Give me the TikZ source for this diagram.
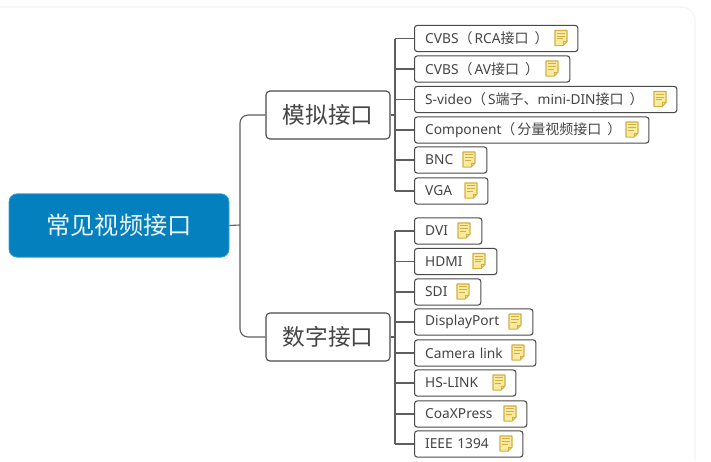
\documentclass[tikz,border=0pt]{standalone}
\usepackage{fontspec}
\setmainfont{Noto Sans}
\newfontfamily\cjk{Noto Sans CJK SC}
\newcommand{\zh}[1]{{\cjk\fontsize{10.5pt}{12pt}\selectfont #1}}
\newcommand{\lp}{\zh{（}\hspace{1.5pt}}
\newcommand{\rp}{\hspace{4.5pt}\zh{）}}
\definecolor{linegray}{HTML}{5E5E5E}
\definecolor{boxline}{HTML}{4A4A4A}
\definecolor{inktext}{HTML}{444444}
\definecolor{rootblue}{HTML}{0580BE}
\definecolor{rootedge}{HTML}{38A5DA}
\definecolor{notefill}{HTML}{F8EBA0}
\definecolor{noteedge}{HTML}{D2AE45}
\definecolor{frameline}{HTML}{F4F4F4}
\tikzset{
  x=0.75pt,y=-0.75pt,
  conn/.style={draw=linegray,line width=0.85pt},
  leafbox/.style={draw=boxline,line width=0.8pt,fill=white,rounded corners=2pt,anchor=west,
    inner xsep=8pt,inner ysep=0pt,minimum height=19.6pt,align=left,text=inktext,
    font=\fontsize{10.3pt}{12pt}\selectfont},
  branchbox/.style={draw=boxline,line width=0.85pt,fill=white,rounded corners=3pt,
    minimum width=93pt,minimum height=36pt,inner sep=0pt,text=inktext,
    font=\cjk\fontsize{17pt}{20pt}\selectfont},
  rootbox/.style={draw=rootedge,line width=0.6pt,fill=rootblue,rounded corners=6pt,
    minimum width=165pt,minimum height=47.5pt,inner sep=0pt,text=white!92!rootblue,
    font=\cjk\fontsize{18.2pt}{20pt}\selectfont},
  notebody/.style={minimum width=8.6pt,minimum height=11pt,inner sep=0pt},
  noteshape/.style={draw=noteedge,line width=0.9pt,fill=notefill,line join=round},
  noteline/.style={draw=noteedge,line width=0.6pt},
}
% name, y centre, right edge, text, icon x
\newcommand{\leafnode}[5]{%
  \pgfmathsetlengthmacro{\leaftw}{(#3-414)*0.75pt-16.5pt}%
  \node[leafbox,text width=\leaftw] (#1) at (414,#2) {#4};
  \draw[conn] (#1.west -| sr) -- (#1.west);
  \node[notebody] (#1n) at (#5,#2-0.5) {};
  \draw[noteshape] (#1n.north west) -- (#1n.north east) -- ([yshift=3pt]#1n.south east)
    -- ([xshift=-3pt]#1n.south east) -- (#1n.south west) -- cycle;
  \draw[noteline] ([xshift=-3pt]#1n.south east) -- ([xshift=-3pt,yshift=3pt]#1n.south east) -- ([yshift=3pt]#1n.south east);
  \draw[noteline] ([xshift=1.6pt,yshift=-2.2pt]#1n.north west) -- ([xshift=-1.6pt,yshift=-2.2pt]#1n.north east)
    ([xshift=1.6pt,yshift=-4.2pt]#1n.north west) -- ([xshift=-1.6pt,yshift=-4.2pt]#1n.north east)
    ([xshift=1.6pt,yshift=-6.2pt]#1n.north west) -- ([xshift=-3pt,yshift=-6.2pt]#1n.north east);
}
\begin{document}
\begin{tikzpicture}
\useasboundingbox (0,0) rectangle (711,461);
\fill[white] (0,0) rectangle (711,461);
\draw[frameline,line width=0.8pt,rounded corners=10pt] (0,7) -- (695,7) -- (695,461);
\coordinate (sl) at (240,225);
\node[rootbox] (root) at (119,225.5) {常见视频接口};
\node[branchbox] (ma) at (328,115) {模拟接口};
\node[branchbox] (di) at (328,337) {数字接口};
\draw[conn] (root.east) -- (sl);
\draw[conn,rounded corners=6pt] (ma.west) -- (ma.west -| sl) -- (di.west -| sl) -- (di.west);
\coordinate (sr) at (395,115);
% analog
\leafnode{a1}{38.5}{578}{CVBS\lp RCA\zh{接口}\rp}{561}
\leafnode{a2}{69}{570}{CVBS\lp AV\zh{接口}\rp}{552}
\leafnode{a3}{99.5}{677}{S-video\lp S\zh{端子、}mini-DIN\zh{接口}\rp}{660}
\leafnode{a4}{130}{649}{Component\lp\zh{分量视频接口}\rp}{632}
\leafnode{a5}{160}{487}{BNC}{469}
\leafnode{a6}{191}{488}{VGA}{471}
\draw[conn] (ma.east) -- (ma.east -| sr);
\draw[conn] (a1.west -| sr) -- (a6.west -| sr);
% digital
\coordinate (sr) at (395,337);
\leafnode{d1}{231}{482}{DVI}{464}
\leafnode{d2}{261.5}{497}{HDMI}{479}
\leafnode{d3}{292}{481}{SDI}{463}
\leafnode{d4}{322}{533}{DisplayPort}{515}
\leafnode{d5}{353}{536}{Camera link}{518}
\leafnode{d6}{383}{516}{HS-LINK}{499}
\leafnode{d7}{414}{527}{CoaXPress}{510}
\leafnode{d8}{444}{523}{IEEE 1394}{506}
\draw[conn] (di.east) -- (di.east -| sr);
\draw[conn] (d1.west -| sr) -- (d8.west -| sr);
\end{tikzpicture}
\end{document}
